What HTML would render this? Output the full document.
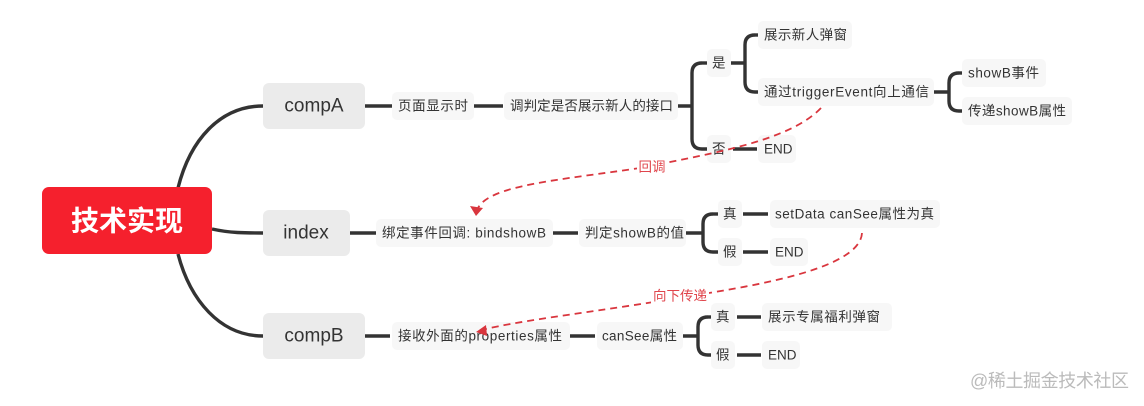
<!DOCTYPE html>
<html><head><meta charset="utf-8"><style>
html,body{margin:0;padding:0;background:#fff;}
svg{display:block;}
text{font-family:"Liberation Sans","Noto Sans CJK SC",sans-serif;fill:#333;dominant-baseline:central;}
.l{font-size:13.5px;}
.n{font-size:19px;}
</style></head><body>
<svg width="1144" height="406" viewBox="0 0 1144 406" xmlns="http://www.w3.org/2000/svg">
<g fill="none" stroke="#333" stroke-width="3.4" stroke-linecap="butt">
<path d="M178 188 C190 140 220 106 263 106"/>
<path d="M212 229 C230 233 245 233 263 233"/>
<path d="M178 254 C190 300 220 336 263 336"/>
<path d="M365 106 H392 M474 106 H503 M673 106 H692"/>
<path d="M702 63 Q692 63 692 73 V139 Q692 149 702 149 H712"/>
<path d="M702 63 H712"/>
<path d="M728 63 H745"/>
<path d="M755 35 Q745 35 745 45 V82 Q745 92 755 92 H762"/>
<path d="M755 35 H762"/>
<path d="M733 149 H757"/>
<path d="M932 92 H949"/>
<path d="M959 73 Q949 73 949 83 V101 Q949 111 959 111 H966"/>
<path d="M959 73 H966"/>
<path d="M350 233 H376 M553 233 H578 M686 233 H703"/>
<path d="M713 214 Q703 214 703 224 V242 Q703 252 713 252 H720"/>
<path d="M713 214 H720"/>
<path d="M743 214 H768 M743 252 H768"/>
<path d="M365 336 H390 M570 336 H595 M683 336 H698"/>
<path d="M708 317 Q698 317 698 327 V345 Q698 355 708 355 H714"/>
<path d="M708 317 H714"/>
<path d="M737 317 H761 M737 355 H761"/>
</g>
<rect x="42" y="187" width="170" height="67" rx="7" fill="#f5202d"/>
<text x="127" y="221" text-anchor="middle" style="font-size:28px;font-weight:bold;fill:#fff">技术实现</text>
<rect x="263" y="83" width="102" height="46" rx="6" fill="#ebebeb"/>
<text class="n" x="314" y="106" text-anchor="middle">compA</text>
<rect x="263" y="210" width="87" height="46" rx="6" fill="#ebebeb"/>
<text class="n" x="306" y="233" text-anchor="middle">index</text>
<rect x="263" y="313" width="102" height="46" rx="6" fill="#ebebeb"/>
<text class="n" x="314" y="336" text-anchor="middle">compB</text>
<g fill="#f7f7f7">
<rect x="392" y="92" width="82" height="28" rx="5"/>
<rect x="504" y="92" width="174" height="28" rx="5"/>
<rect x="376" y="219" width="177" height="28" rx="5"/>
<rect x="579" y="219" width="107" height="28" rx="5"/>
<rect x="392" y="322" width="178" height="28" rx="5"/>
<rect x="597" y="322" width="86" height="28" rx="5"/>
<rect x="758" y="21" width="94" height="28" rx="5"/>
<rect x="758" y="78" width="176" height="28" rx="5"/>
<rect x="962" y="59" width="84" height="28" rx="5"/>
<rect x="962" y="97" width="110" height="28" rx="5"/>
<rect x="770" y="200" width="170" height="28" rx="5"/>
<rect x="762" y="303" width="130" height="28" rx="5"/>
<rect x="707" y="49" width="24" height="28" rx="5"/>
<rect x="707" y="135" width="24" height="28" rx="5"/>
<rect x="758" y="135" width="38" height="28" rx="5"/>
<rect x="718" y="200" width="24" height="28" rx="5"/>
<rect x="718" y="238" width="24" height="28" rx="5"/>
<rect x="770" y="238" width="38" height="28" rx="5"/>
<rect x="711" y="303" width="24" height="28" rx="5"/>
<rect x="711" y="341" width="24" height="28" rx="5"/>
<rect x="762" y="341" width="38" height="28" rx="5"/>
</g>
<text class="l" x="398" y="106" textLength="70">页面显示时</text>
<text class="l" x="510" y="106" textLength="163">调判定是否展示新人的接口</text>
<text class="l" x="712" y="63">是</text>
<text class="l" x="712" y="149">否</text>
<text class="l" x="764" y="35" textLength="83">展示新人弹窗</text>
<text class="l" x="764" y="92" textLength="165">通过triggerEvent向上通信</text>
<text class="l" x="764" y="149">END</text>
<text class="l" x="968" y="73" textLength="71">showB事件</text>
<text class="l" x="968" y="111" textLength="98">传递showB属性</text>
<text class="l" x="382" y="233" textLength="164">绑定事件回调: bindshowB</text>
<text class="l" x="585" y="233" textLength="99">判定showB的值</text>
<text class="l" x="723" y="214">真</text>
<text class="l" x="723" y="252">假</text>
<text class="l" x="775" y="214" textLength="159">setData canSee属性为真</text>
<text class="l" x="775" y="252">END</text>
<text class="l" x="398" y="336" textLength="164">接收外面的properties属性</text>
<text class="l" x="602" y="336" textLength="75">canSee属性</text>
<text class="l" x="716" y="317">真</text>
<text class="l" x="716" y="355">假</text>
<text class="l" x="768" y="317" textLength="112">展示专属福利弹窗</text>
<text class="l" x="768" y="355">END</text>
<g fill="none" stroke="#d9363e" stroke-width="1.8" stroke-dasharray="7 5">
<path d="M821 108 C790 140 720 152 640 168 C560 180 490 185 478 208"/>
<path d="M862 233 C860 268 760 285 690 296 C610 310 520 320 482 330"/>
</g>
<path d="M470 206 L483 208 L476 216 Z" fill="#d9363e"/>
<path d="M486 325 L487 336 L476 332 Z" fill="#d9363e"/>
<rect x="637" y="159" width="30" height="17" fill="#fff"/>
<text x="652" y="167" text-anchor="middle" style="font-size:13.5px;fill:#e0454c">回调</text>
<rect x="651" y="288" width="58" height="17" fill="#fff"/>
<text x="680" y="296" text-anchor="middle" style="font-size:13.5px;fill:#e0454c">向下传递</text>
<text x="970" y="381" textLength="159" style="font-size:18px;fill:#bbb">@稀土掘金技术社区</text>
</svg>
</body></html>
